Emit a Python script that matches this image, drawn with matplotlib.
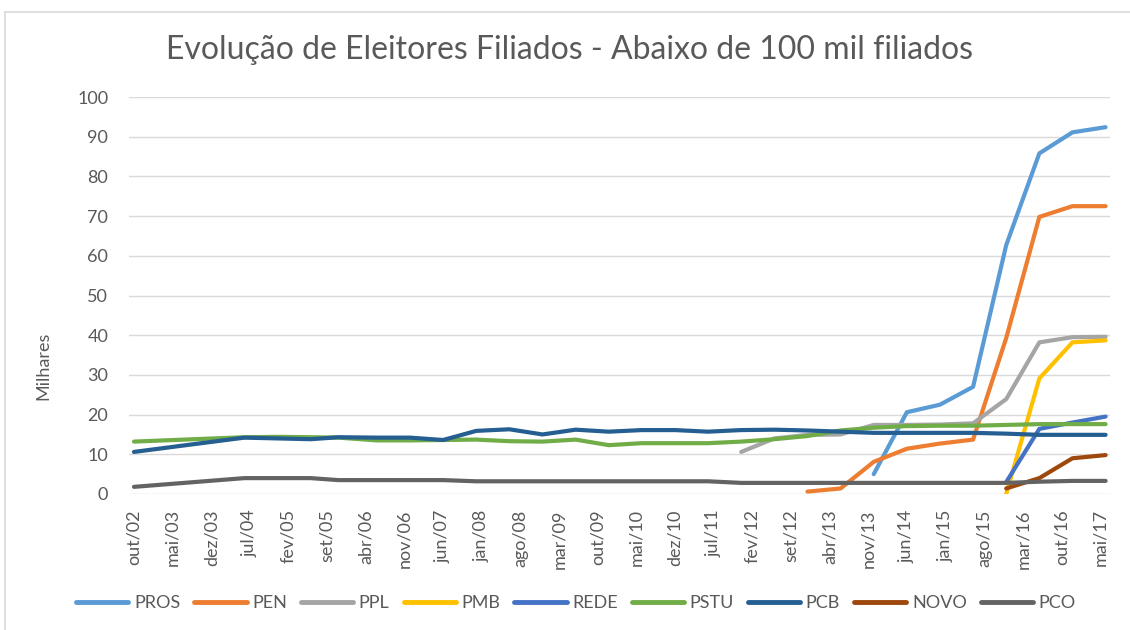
import numpy as np
import matplotlib
matplotlib.use("Agg")
import matplotlib.pyplot as plt
from matplotlib.lines import Line2D

nan = np.nan

# Observation dates (month/year)
dates = ["out/02", "jun/04", "dez/04", "jun/05", "nov/05", "jun/06", "dez/06",
         "jun/07", "dez/07", "jun/08", "dez/08", "jun/09", "dez/09", "jun/10",
         "dez/10", "jun/11", "dez/11", "jun/12", "dez/12", "jun/13", "dez/13",
         "jun/14", "dez/14", "jun/15", "dez/15", "jun/16", "dez/16", "jun/17"]

# Axis tick labels
tick_labels = ["out/02", "mai/03", "dez/03", "jul/04", "fev/05", "set/05", "abr/06",
               "nov/06", "jun/07", "jan/08", "ago/08", "mar/09", "out/09", "mai/10",
               "dez/10", "jul/11", "fev/12", "set/12", "abr/13", "nov/13", "jun/14",
               "jan/15", "ago/15", "mar/16", "out/16", "mai/17"]

# Series values (milhares)
PROS = [nan]*20 + [5.0, 20.6, 22.5, 27.0, 62.7, 85.8, 91.1, 92.4]
PEN = [nan]*18 + [0.6, 1.4, 8.1, 11.4, 12.7, 13.7, 39.3, 69.8, 72.5, 72.5]
PPL = [nan]*16 + [10.6, 14.0, 14.9, 15.0, 17.4, 17.4, 17.5, 17.8, 23.9, 38.2, 39.5, 39.6]
PMB = [nan]*24 + [0.0, 29.1, 38.2, 38.7]
REDE = [nan]*24 + [3.0, 16.4, 18.0, 19.5]
PSTU = [13.2, 14.3, 14.4, 14.3, 14.2, 13.5, 13.5, 13.6, 13.7, 13.3, 13.2, 13.7, 12.3, 12.8,
        12.8, 12.8, 13.2, 13.8, 14.6, 16.0, 16.7, 17.1, 17.2, 17.2, 17.4, 17.6, 17.6, 17.6]
PCB = [10.6, 14.2, 14.0, 13.8, 14.3, 14.2, 14.2, 13.6, 15.9, 16.3, 15.0, 16.2, 15.7, 16.1,
       16.1, 15.7, 16.1, 16.2, 16.0, 15.7, 15.4, 15.4, 15.4, 15.4, 15.2, 14.9, 14.9, 14.9]
NOVO = [nan]*24 + [1.4, 4.0, 9.0, 9.8]
PCO = [1.8, 4.0, 4.0, 4.0, 3.5, 3.5, 3.5, 3.5, 3.2, 3.2, 3.2, 3.2, 3.2, 3.2,
       3.2, 3.2, 2.8, 2.8, 2.8, 2.8, 2.8, 2.8, 2.8, 2.8, 2.8, 3.1, 3.3, 3.3]

series_names = ["PROS", "PEN", "PPL", "PMB", "REDE", "PSTU", "PCB", "NOVO", "PCO"]
series_values = [PROS, PEN, PPL, PMB, REDE, PSTU, PCB, NOVO, PCO]
colors = ["#5B9BD5", "#ED7D31", "#A5A5A5", "#FFC000", "#4472C4",
          "#70AD47", "#255E91", "#9E480E", "#636363"]

MONTHS = {"jan": 1, "fev": 2, "mar": 3, "abr": 4, "mai": 5, "jun": 6,
          "jul": 7, "ago": 8, "set": 9, "out": 10, "nov": 11, "dez": 12}


def month_index(s):
    mon, yr = s.split("/")
    return (2000 + int(yr)) * 12 + MONTHS[mon]


base = month_index("out/02")
x = np.array([month_index(d) - base for d in dates], dtype=float)
tick_pos = [month_index(t) - base for t in tick_labels]

plt.rcParams['font.family'] = ['Lato', 'DejaVu Sans']
TXT = "#595959"

W, H = 1130, 630
fig = plt.figure(figsize=(W / 100, H / 100), dpi=100)
ax = fig.add_axes([129 / W, 1 - 494 / H, (1110 - 129) / W, (494 - 97) / H])

for name, vals, c in zip(series_names, series_values, colors):
    ax.plot(x, np.array(vals, dtype=float), color=c, lw=3.0, label=name,
            solid_capstyle='round', solid_joinstyle='round', clip_on=True)

ax.set_ylim(0, 100)
ax.set_yticks(np.arange(0, 101, 10))
ax.set_xlim(-0.9, 176.8)
ax.set_xticks(tick_pos)
ax.set_xticklabels(tick_labels, rotation=90)
ax.grid(axis='y', color='#D9D9D9', lw=1.0)
ax.set_axisbelow(True)
for s in ax.spines.values():
    s.set_visible(False)
ax.tick_params(axis='both', length=0, labelsize=13, colors=TXT)
ax.tick_params(axis='y', pad=15)
ax.tick_params(axis='x', pad=11)

fig.text(570 / W, 1 - 50 / H, "Evolução de Eleitores Filiados - Abaixo de 100 mil filiados",
         ha='center', va='center', fontsize=23, color=TXT, fontweight='normal')
fig.text(43 / W, 1 - 366 / H, "Milhares", rotation=90, ha='center', va='center',
         fontsize=13, color=TXT)

handles = [Line2D([0], [0], color=c, lw=3.5, solid_capstyle='round') for c in colors]
fig.legend(handles, series_names, loc='center', bbox_to_anchor=(576 / W, 1 - 603 / H),
           ncol=9, frameon=False, fontsize=13, handlelength=2.9, handletextpad=0.3,
           columnspacing=0.78, labelcolor=TXT)

# chart border (left and top visible)
fig.add_artist(Line2D([5 / W, 5 / W], [0, 1 - 12 / H], color='#D9D9D9', lw=1.2))
fig.add_artist(Line2D([5 / W, 1], [1 - 12 / H, 1 - 12 / H], color='#D9D9D9', lw=1.2))

fig.savefig("out.png", dpi=100)
